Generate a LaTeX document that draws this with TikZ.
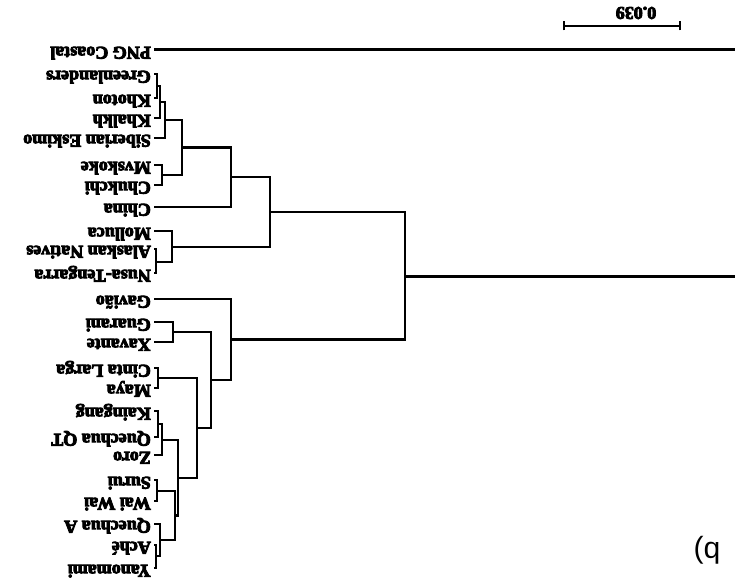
\documentclass[tikz,border=0pt]{standalone}
\usepackage{fontspec}
\setmainfont{Liberation Serif}
\newfontfamily\labelfont{Liberation Serif}[UprightFont=* Bold, UprightFeatures={FakeBold=5}]
\newfontfamily\panelfont{Liberation Sans}
\begin{document}
\begin{tikzpicture}[x=1pt,y=-1pt,
  leaf/.style={rotate=180,anchor=west,inner sep=0pt,text height=0.62em,text depth=0pt,
    font=\labelfont\fontsize{18}{18}\selectfont},
  treeline/.style={line width=2.6pt},
  rootline/.style={line width=3pt},
  branchline/.style={line width=2.6pt,shorten <=3pt}]
\useasboundingbox (0,0) rectangle (735,588);
% leaves
\node[leaf] (png) at (151,50) {PNG Coastal};
\node[leaf] (gre) at (151,74) {Greenlanders};
\node[leaf] (kho) at (151,98) {Khoton};
\node[leaf] (kha) at (151,118) {Khalkh};
\node[leaf] (sib) at (151,138) {Siberian Eskimo};
\node[leaf] (mvs) at (151,165) {Mvskoke};
\node[leaf] (chu) at (151,185) {Chukchi};
\node[leaf] (chi) at (151,207) {China};
\node[leaf] (mol) at (151,231) {Molluca};
\node[leaf] (ala) at (151,249) {Alaskan Natives};
\node[leaf] (nus) at (151,273) {Nusa-Tengarra};
\node[leaf] (gav) at (151,299) {Gavião};
\node[leaf] (gua) at (151,322) {Guarani};
\node[leaf] (xav) at (151,342) {Xavante};
\node[leaf] (cin) at (151,368) {Cinta Larga};
\node[leaf] (may) at (151,388) {Maya};
\node[leaf] (kai) at (151,411) {Kaingang};
\node[leaf] (qqt) at (151,437) {Quechua QT};
\node[leaf] (zor) at (151,455) {Zoro};
\node[leaf] (sur) at (151,480) {Surui};
\node[leaf] (wai) at (151,501) {Wai Wai};
\node[leaf] (qua) at (151,524) {Quechua A};
\node[leaf] (ach) at (151,545) {Aché};
\node[leaf] (yan) at (151,568) {Yanomami};
% internal joins
\coordinate (gk) at (157,86);
\coordinate (gkk) at (160,102);
\coordinate (gkks) at (165,120);
\coordinate (mc) at (162,175);
\coordinate (asia) at (182,147.5);
\coordinate (asiac) at (231,177);
\coordinate (an) at (156,262);
\coordinate (man) at (172,247);
\coordinate (north) at (270,212);
\coordinate (gx) at (173,332);
\coordinate (cm) at (158,378);
\coordinate (kq) at (158,424);
\coordinate (kqz) at (162,440);
\coordinate (sw) at (157,491);
\coordinate (ay) at (156,556);
\coordinate (qay) at (160,540);
\coordinate (swq) at (175,515.5);
\coordinate (pp) at (178,478);
\coordinate (nn) at (197,428);
\coordinate (ll) at (211,380);
\coordinate (kk) at (231,339.5);
\coordinate (root) at (405,276);
\coordinate (rootend) at (735,276);
\coordinate (pngend) at (735,50);
% leaf branches
\draw[branchline] (gre.west) -| (gk);
\draw[branchline] (kho.west) -| (gk);
\draw[branchline] (kha.west) -| (gkk);
\draw[branchline] (sib.west) -| (gkks);
\draw[branchline] (mvs.west) -| (mc);
\draw[branchline] (chu.west) -| (mc);
\draw[branchline] (chi.west) -| (asiac);
\draw[branchline] (mol.west) -| (man);
\draw[branchline] (ala.west) -| (an);
\draw[branchline] (nus.west) -| (an);
\draw[branchline] (gav.west) -| (kk);
\draw[branchline] (gua.west) -| (gx);
\draw[branchline] (xav.west) -| (gx);
\draw[branchline] (cin.west) -| (cm);
\draw[branchline] (may.west) -| (cm);
\draw[branchline] (kai.west) -| (kq);
\draw[branchline] (qqt.west) -| (kq);
\draw[branchline] (zor.west) -| (kqz);
\draw[branchline] (sur.west) -| (sw);
\draw[branchline] (wai.west) -| (sw);
\draw[branchline] (qua.west) -| (qay);
\draw[branchline] (ach.west) -| (ay);
\draw[branchline] (yan.west) -| (ay);
% internal branches
\draw[treeline] (gk) -| (gkk);
\draw[treeline] (gkk) -| (gkks);
\draw[treeline] (gkks) -| (asia);
\draw[treeline] (mc) -| (asia);
\draw[treeline] (asia) -| (asiac);
\draw[treeline] (asiac) -| (north);
\draw[treeline] (an) -| (man);
\draw[treeline] (man) -| (north);
\draw[treeline] (north) -| (root);
\draw[treeline] (gx) -| (ll);
\draw[treeline] (cm) -| (nn);
\draw[treeline] (kq) -| (kqz);
\draw[treeline] (kqz) -| (pp);
\draw[treeline] (sw) -| (swq);
\draw[treeline] (ay) -| (qay);
\draw[treeline] (qay) -| (swq);
\draw[treeline] (swq) -| (pp);
\draw[treeline] (pp) -| (nn);
\draw[treeline] (nn) -| (ll);
\draw[treeline] (ll) -| (kk);
\draw[treeline] (kk) -| (root);
\draw[rootline] (root) -- (rootend);
\draw[rootline,shorten <=3pt] (png.west) -- (pngend);
% scale bar
\coordinate (sbl) at (564,26);
\coordinate (sbr) at (680,26);
\draw[line width=2pt] (sbl) -- (sbr);
\draw[line width=2pt] ([yshift=-4.5pt]sbl) -- ([yshift=4.5pt]sbl);
\draw[line width=2pt] ([yshift=-4.5pt]sbr) -- ([yshift=4.5pt]sbr);
\node[rotate=180,inner sep=0pt,font=\labelfont\fontsize{18}{18}\selectfont] (sbt) at (636,13) {0.039};
% panel label
\node[rotate=180,inner sep=0pt,font=\panelfont\fontsize{30}{30}\selectfont] (pl) at (707,550) {b)};
\end{tikzpicture}
\end{document}
